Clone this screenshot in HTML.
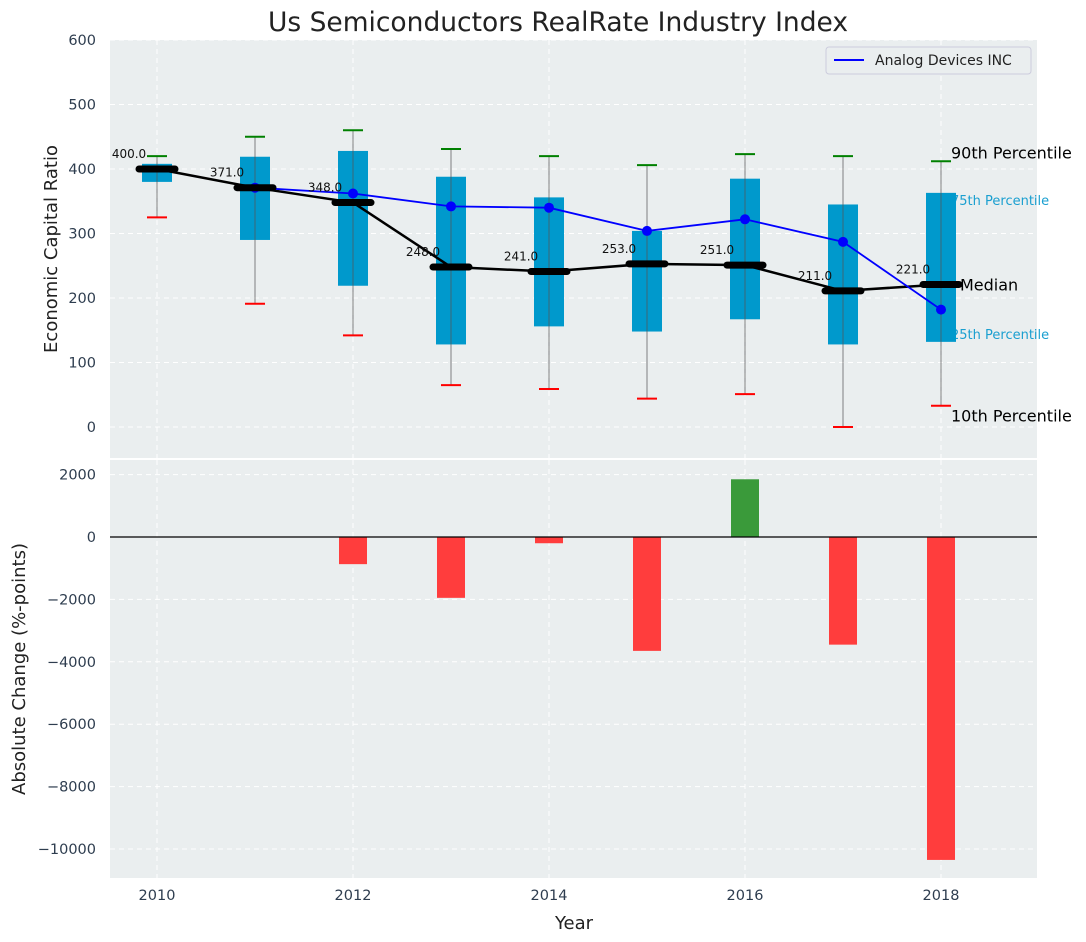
<!DOCTYPE html>
<html><head><meta charset="utf-8">
<style>
html,body{margin:0;padding:0;background:#fff;}
svg{display:block;font-family:"DejaVu Sans","Liberation Sans",sans-serif;}
</style></head>
<body>
<svg id="chart" width="1086" height="942"></svg>
<script>
const years=[2010,2011,2012,2013,2014,2015,2016,2017,2018];
const p90=[420,450,460,431,420,406,423,420,412];
const p75=[408,419,428,388,356,304,385,345,363];
const median=[400,371,348,248,241,253,251,211,221];
const p25=[380,290,219,128,156,148,167,128,132];
const p10=[325,191,142,65,59,44,51,0,33];
const adiYears=[2011,2012,2013,2014,2015,2016,2017,2018];
const adiValues=[371,362,342,340,304,322,287,182];
const changes=[0,0,-870,-1950,-200,-3650,1850,-3450,-10350];
const topTicks=[0,100,200,300,400,500,600];
const botTicks=[2000,0,-2000,-4000,-6000,-8000,-10000];
const xTicks=[2010,2012,2014,2016,2018];

const NS="http://www.w3.org/2000/svg";
const svg=document.getElementById('chart');
function el(tag,attrs,parent,text){const e=document.createElementNS(NS,tag);for(const k in attrs)e.setAttribute(k,attrs[k]);if(text!==undefined)e.textContent=text;(parent||svg).appendChild(e);return e;}
const X=y=>157+(y-2010)*98;
const YT=v=>427-v*0.645;
const YB=v=>537-v*0.0312;
const L=110,R=1037;

let t=el('text',{x:558,y:31,'text-anchor':'middle','font-size':26.5,fill:'#222'},svg,'Us Semiconductors RealRate Industry Index');


let p1=el('rect',{x:L,y:40,width:R-L,height:418,fill:'#eaeeef'});

let p2=el('rect',{x:L,y:460,width:R-L,height:418,fill:'#eaeeef'});


const grid='#ffffff';
xTicks.forEach(y=>{
  [[40,458],[460,878]].forEach(r=>{let g=el('line',{x1:X(y),x2:X(y),y1:r[0],y2:r[1],stroke:grid,'stroke-dasharray':'5,4','stroke-width':1});});
  let tl=el('text',{x:X(y),y:900,'text-anchor':'middle','font-size':14.5,fill:'#2e3d4f'},svg,String(y));
  
});
topTicks.forEach(v=>{
  let g=el('line',{x1:L,x2:R,y1:YT(v),y2:YT(v),stroke:grid,'stroke-dasharray':'5,4'});
  
  let tl=el('text',{x:96,y:YT(v)+5,'text-anchor':'end','font-size':14.5,fill:'#2e3d4f'},svg,String(v));
  
});
botTicks.forEach(v=>{
  let g=el('line',{x1:L,x2:R,y1:YB(v),y2:YB(v),stroke:grid,'stroke-dasharray':'5,4'});
  
  let tl=el('text',{x:96,y:YB(v)+5,'text-anchor':'end','font-size':14.5,fill:'#2e3d4f'},svg,String(v).replace('-','\u2212'));
  
});

const last=years.length-1;
let lb=el('text',{x:951,y:YT(p75[last])+12,'font-size':13,fill:'#1a9fd0'},svg,'75th Percentile');

lb=el('text',{x:951,y:YT(p25[last])-3,'font-size':13,fill:'#1a9fd0'},svg,'25th Percentile');


years.forEach((y,i)=>{
  const cx=X(y);
  let b=el('rect',{x:cx-15,y:YT(p75[i]),width:30,height:YT(p25[i])-YT(p75[i]),fill:'#0099cc'});
  
  let w=el('line',{x1:cx,x2:cx,y1:YT(p90[i]),y2:YT(p10[i]),stroke:'#555','stroke-opacity':0.6,'stroke-width':1.2});
  
  let g=el('line',{x1:cx-10,x2:cx+10,y1:YT(p90[i]),y2:YT(p90[i]),stroke:'green','stroke-width':2});
  
  let r=el('line',{x1:cx-10,x2:cx+10,y1:YT(p10[i]),y2:YT(p10[i]),stroke:'red','stroke-width':2});
  
});

let mp=el('polyline',{points:years.map((y,i)=>X(y)+','+YT(median[i])).join(' '),fill:'none',stroke:'#000','stroke-width':2.5});

let ap=el('polyline',{points:adiYears.map((y,i)=>X(y)+','+YT(adiValues[i])).join(' '),fill:'none',stroke:'blue','stroke-width':1.8});

adiYears.forEach((y,i)=>{let c=el('circle',{cx:X(y),cy:YT(adiValues[i]),r:5,fill:'blue'});});
years.forEach((y,i)=>{
  let m=el('line',{x1:X(y)-18,x2:X(y)+18,y1:YT(median[i]),y2:YT(median[i]),stroke:'#000','stroke-width':7,'stroke-linecap':'round'});
  
  let ml=el('text',{x:X(y)-28,y:YT(median[i])-11,'text-anchor':'middle','font-size':12,fill:'#111'},svg,median[i].toFixed(1));
  
});
lb=el('text',{x:951,y:YT(p90[last])-3,'font-size':16,fill:'#000'},svg,'90th Percentile');

lb=el('text',{x:960,y:YT(median[last])+6,'font-size':16,fill:'#000'},svg,'Median');

lb=el('text',{x:951,y:YT(p10[last])+16,'font-size':16,fill:'#000'},svg,'10th Percentile');


let lg=el('g',{});
el('rect',{x:826,y:47,width:205,height:27,rx:3,fill:'#eaeeef',stroke:'#ccd','stroke-width':1},lg);
let ll=el('line',{x1:834,x2:864,y1:60,y2:60,stroke:'blue','stroke-width':2},lg);

let lt=el('text',{x:875,y:65,'font-size':14,fill:'#222'},lg,'Analog Devices INC');


years.forEach((y,i)=>{
  const v=changes[i];if(v===0)return;
  const y0=YB(Math.max(v,0)),y1=YB(Math.min(v,0));
  let b=el('rect',{x:X(y)-14,y:y0,width:28,height:y1-y0,fill:v>0?'#3a9a3a':'#ff3d3d'});
  
});
let zl=el('line',{x1:L,x2:R,y1:YB(0),y2:YB(0),stroke:'#000','stroke-width':1.2});


let a=el('text',{x:574,y:929,'text-anchor':'middle','font-size':18,fill:'#222'},svg,'Year');

a=el('text',{x:0,y:0,'text-anchor':'middle','font-size':18,fill:'#222',transform:'translate(57,249) rotate(-90)'},svg,'Economic Capital Ratio');

a=el('text',{x:0,y:0,'text-anchor':'middle','font-size':18,fill:'#222',transform:'translate(25,669) rotate(-90)'},svg,'Absolute Change (%-points)');

</script>
</body></html>
